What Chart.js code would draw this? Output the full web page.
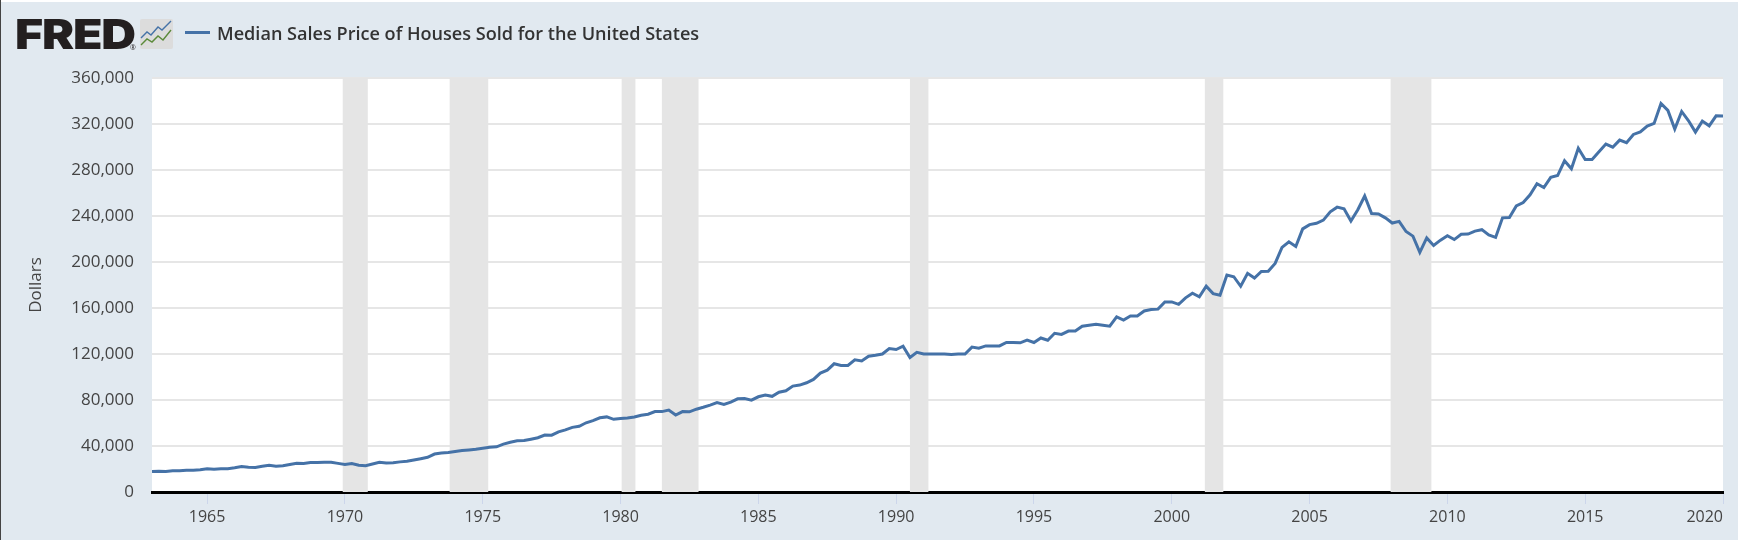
<!DOCTYPE html>
<html>
<head>
<meta charset="utf-8">
<title>Median Sales Price of Houses Sold for the United States</title>
<script src="https://cdn.jsdelivr.net/npm/chart.js@4"></script>
<style>
html, body { margin: 0; padding: 0; background: #e1e9f0; overflow: hidden; }
#wrap { position: relative; width: 1738px; height: 540px; }
#chart { position: absolute; left: 0; top: 0; }
#topStrip { position: absolute; left: 0; top: 0; width: 1738px; height: 2px; background: #fff; }
#leftEdge { position: absolute; left: 0; top: 0; width: 1px; height: 540px; background: #444; }
#logo { position: absolute; left: 15px; top: 9px; font: 900 41.5px Inter, sans-serif; letter-spacing: -1px; color: #231f20; line-height: 50px; transform: scaleX(1.16); transform-origin: left center; }
#logoMark { position: absolute; left: 130px; top: 43px; font: 400 7px "Open Sans", sans-serif; color: #231f20; }
#logoIcon { position: absolute; left: 140px; top: 19px; }
#legendLine { position: absolute; left: 185px; top: 31px; width: 25px; height: 3px; background: #4572a7; }
#legendText { position: absolute; left: 217px; top: 21px; font: 600 18.1px "Open Sans", sans-serif; color: #333; line-height: 24px; white-space: nowrap; }
</style>
</head>
<body>
<div id="wrap">
    <canvas id="chart" width="1738" height="540"></canvas>
    <div id="topStrip"></div>
    <div id="leftEdge"></div>
    <div id="logo">FRED</div>
    <div id="logoMark">®</div>
    <svg id="logoIcon" width="33" height="30" viewBox="0 0 33 30">
        <rect x="0" y="0" width="33" height="30" rx="2" fill="#dcdcdc"/>
        <polyline points="1,19 7,13 11,16 18,8 22,11 31,2" fill="none" stroke="#4572a7" stroke-width="1.4"/>
        <polyline points="1,26 7,20 12,23 18,17 23,21 31,11" fill="none" stroke="#5b8a3a" stroke-width="1.4"/>
    </svg>
    <div id="legendLine"></div>
    <div id="legendText">Median Sales Price of Houses Sold for the United States</div>
</div>
<script>
var seriesName = 'Median Sales Price of Houses Sold for the United States';
var firstYear = 1963;

// quarterly values, Q1 1963 to Q1 2020
var medianPrice = [
    17800, 18000, 17900, 18500,
    18500, 18900, 18900, 19400,
    20200, 19800, 20200, 20300,
    21000, 22100, 21500, 21400,
    22300, 23300, 22500, 22800,
    23900, 24900, 24800, 25600,
    25700, 25900, 25900,
    24900, 24000, 24800, 23200,
    22800, 24300, 25800, 25300,
    25500, 26200, 26800, 27900,
    29000, 30200, 33000, 33900,
    34400, 35200, 36000, 36600,
    37200, 38100, 38900, 39300,
    41600, 43300, 44500, 44700,
    45900, 47200, 49500, 49400,
    52300, 54000, 56200, 57200,
    60200, 62100, 64500, 65300,
    63200, 64000, 64400, 65300,
    66800, 67600, 69900, 69900,
    71200, 66900, 69900, 69700,
    72000, 73700, 75600, 77700,
    76200, 78200, 81000, 81200,
    79900, 82800, 84300, 83200,
    86800, 88000, 92100, 93000,
    95000, 97900, 103400, 106000,
    111500, 110000, 110000, 115000,
    113900, 118000, 118900, 120000,
    124800, 123900, 126800, 117000,
    121500, 120000, 120000, 120000,
    120000, 119500, 120000, 120000,
    126000, 125000, 127000, 127000,
    127000, 130000, 130000, 129700,
    132000, 130000, 133900, 132000,
    138000, 137000, 139900, 140000,
    144100, 145000, 145900, 145000,
    144200, 152200, 149500, 153000,
    153000, 157400, 158700, 159000,
    165300, 165300, 163200, 168800,
    172900, 169800, 179000, 172500,
    171100, 188700, 187200, 178900,
    190100, 186000, 191800, 191900,
    198800, 212700, 217600, 213500,
    228800, 232500, 233700, 236400,
    243600, 247700, 246300, 235600,
    245400, 257400, 242200, 241800,
    238400, 233900, 235300, 226500,
    222500, 208400, 220900, 214300,
    219000, 222900, 219500, 224100,
    224300, 226900, 228100, 223500,
    221400, 238400, 238700, 248800,
    251700, 258400, 268100, 264800,
    273600, 275200, 288000, 281000,
    298900, 289200, 289100, 295800,
    302500, 299800, 306000, 303800,
    310900, 313100, 318200, 320500,
    337900, 331800, 315600, 330900,
    322800, 313000, 322500, 318400,
    327100, 327000
];
var yearTicks = [1965, 1970, 1975, 1980, 1985, 1990, 1995, 2000, 2005, 2010, 2015, 2020];
var priceTicks = [0, 40000, 80000, 120000, 160000, 200000, 240000, 280000, 320000, 360000];
var recessionStart = [1969.92, 1973.8, 1980.04, 1981.5, 1990.5, 2001.2, 2007.94];
var recessionEnd = [1970.83, 1975.2, 1980.54, 1982.83, 1991.17, 2001.87, 2009.42];

var pricePoints = medianPrice.map(function (price, i) {
    return { x: firstYear + i / 4, y: price };
});

var recessionBands = {
    id: 'recessionBands',
    beforeDraw: function (chart) {
        var area = chart.chartArea;
        chart.ctx.fillStyle = '#ffffff';
        chart.ctx.fillRect(area.left, area.top, area.right - area.left, area.bottom - area.top);
    },
    beforeDatasetsDraw: function (chart) {
        var area = chart.chartArea;
        var x = chart.scales.x;
        chart.ctx.fillStyle = '#e5e5e5';
        recessionStart.forEach(function (start, i) {
            var left = x.getPixelForValue(start);
            var right = x.getPixelForValue(recessionEnd[i]);
            chart.ctx.fillRect(left, area.top, right - left, area.bottom - area.top);
        });
    },
    // the last year label sits flush with the plot edge
    afterDraw: function (chart) {
        var ctx = chart.ctx;
        ctx.save();
        ctx.font = '400 16px "Open Sans"';
        ctx.fillStyle = '#444444';
        ctx.textAlign = 'right';
        ctx.textBaseline = 'middle';
        ctx.fillText('2020', chart.chartArea.right, 517);
        ctx.restore();
    }
};

new Chart(document.getElementById('chart').getContext('2d'), {
    type: 'line',
    data: {
        datasets: [{
            label: seriesName,
            data: pricePoints,
            borderColor: '#4572a7',
            borderWidth: 3,
            pointRadius: 0,
            tension: 0,
            borderJoin: 'round'
        }]
    },
    options: {
        responsive: false,
        animation: false,
        devicePixelRatio: 1,
        layout: { padding: { left: 26, top: 78, right: 15, bottom: 0 } },
        plugins: { legend: { display: false }, tooltip: { enabled: false } },
        scales: {
            x: {
                type: 'linear',
                min: firstYear,
                max: 2020,
                afterBuildTicks: function (scale) {
                    scale.ticks = yearTicks.map(function (year) { return { value: year }; });
                },
                afterFit: function (scale) { scale.height = 48; },
                ticks: {
                    autoSkip: false,
                    maxRotation: 0,
                    padding: 4,
                    color: '#444444',
                    font: { family: 'Open Sans', size: 16 },
                    callback: function (value) { return value === 2020 ? '' : String(value); }
                },
                border: { color: '#000000', width: 3 },
                grid: { drawOnChartArea: false, color: '#ccd6eb', tickLength: 12, tickWidth: 1 }
            },
            y: {
                min: 0,
                max: 360000,
                afterBuildTicks: function (scale) {
                    scale.ticks = priceTicks.map(function (price) { return { value: price }; });
                },
                afterFit: function (scale) { scale.width = 126; },
                title: {
                    display: true,
                    text: 'Dollars',
                    color: '#444444',
                    font: { family: 'Open Sans', size: 17 },
                    padding: { top: 0, bottom: 0 }
                },
                ticks: {
                    padding: 18,
                    color: '#444444',
                    font: { family: 'Open Sans', size: 17 },
                    callback: function (value) { return value.toLocaleString('en-US'); }
                },
                border: { display: false },
                grid: { color: '#e6e6e6', lineWidth: 2, drawTicks: false }
            }
        }
    },
    plugins: [recessionBands]
});
</script>
</body>
</html>
